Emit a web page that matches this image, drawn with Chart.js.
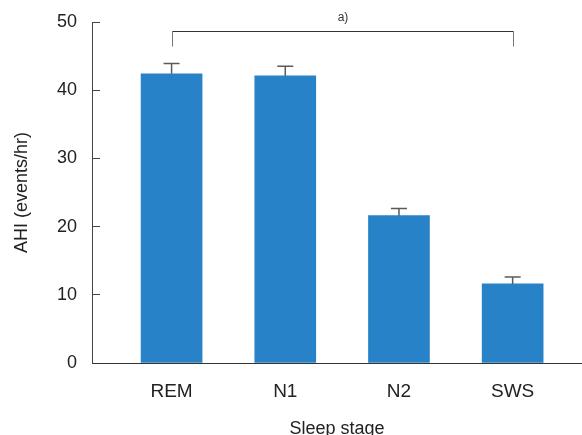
<!DOCTYPE html>
<html>
<head>
<meta charset="utf-8">
<script src="https://cdn.jsdelivr.net/npm/chart.js@4"></script>
<style>
  html, body { margin: 0; padding: 0; background: #fff; }
  #wrap { width: 582px; height: 435px; }
</style>
</head>
<body>
<div id="wrap"><canvas id="ahiChart"></canvas></div>
<script>
// Data
const categories = ['REM', 'N1', 'N2', 'SWS'];
const ahiMeans = [42.4, 42.1, 21.6, 11.6];
const ahiErrors = [1.5, 1.4, 1.05, 1.0];
const yTickValues = [0, 10, 20, 30, 40, 50];

// Significance bracket between REM and SWS
const bracketFrom = 0;
const bracketTo = 3;
const bracketTop = 48.7;
const bracketLegBottom = 46.4;
const bracketLabel = 'a)';
const bracketLabelValue = 50.6;

const FONT = '"Liberation Sans", Arial, Helvetica, sans-serif';
const barBlue = '#2882c7';

// draw upper error bars on top of each bar
const errorBars = {
    id: 'errorBars',
    afterDatasetsDraw(chart) {
        const { ctx, scales: { y } } = chart;
        const meta = chart.getDatasetMeta(0);
        ctx.save();
        ctx.strokeStyle = '#5a5a5a';
        ctx.lineWidth = 1.5;
        meta.data.forEach((bar, i) => {
            const top = y.getPixelForValue(ahiMeans[i] + ahiErrors[i]);
            ctx.beginPath();
            ctx.moveTo(bar.x, bar.y);
            ctx.lineTo(bar.x, top);
            ctx.moveTo(bar.x - 8, top);
            ctx.lineTo(bar.x + 8, top);
            ctx.stroke();
        });
        ctx.restore();
    }
};

// bracket + label above the bars
const bracket = {
    id: 'bracket',
    afterDraw(chart) {
        const { ctx, scales: { x, y } } = chart;
        const x1 = Math.round(x.getPixelForValue(bracketFrom)) + 0.5;
        const x2 = Math.round(x.getPixelForValue(bracketTo)) + 0.5;
        const yTop = Math.round(y.getPixelForValue(bracketTop)) + 0.5;
        const yLeg = y.getPixelForValue(bracketLegBottom);
        ctx.save();
        ctx.lineWidth = 1;
        ctx.strokeStyle = '#777';
        ctx.beginPath();
        ctx.moveTo(x1, yLeg);
        ctx.lineTo(x1, yTop);
        ctx.moveTo(x2, yTop);
        ctx.lineTo(x2, yLeg);
        ctx.stroke();
        ctx.strokeStyle = '#333';
        ctx.beginPath();
        ctx.moveTo(x1, yTop);
        ctx.lineTo(x2, yTop);
        ctx.stroke();
        ctx.fillStyle = '#333';
        ctx.font = '12px ' + FONT;
        ctx.textAlign = 'center';
        ctx.textBaseline = 'middle';
        ctx.fillText(bracketLabel, (x1 + x2) / 2, y.getPixelForValue(bracketLabelValue));
        ctx.restore();
    }
};

new Chart(document.getElementById('ahiChart'), {
    type: 'bar',
    data: {
        datasets: [{
            data: ahiMeans.map((v, i) => ({ x: i, y: v })),
            backgroundColor: barBlue,
            borderWidth: 0,
            barThickness: 61
        }]
    },
    options: {
        responsive: true,
        maintainAspectRatio: false,
        animation: false,
        layout: { padding: { left: 0, right: 0, top: 22, bottom: 0 } },
        plugins: { legend: { display: false }, tooltip: { enabled: false } },
        scales: {
            x: {
                type: 'linear',
                offset: false,
                min: -0.7,
                max: 3.61,
                afterBuildTicks: (s) => { s.ticks = categories.map((_, i) => ({ value: i })); },
                afterFit: (s) => { s.height = 72; },
                grid: { display: false, offset: false },
                border: { display: true, color: '#333', width: 1 },
                ticks: {
                    padding: 9,
                    color: '#222',
                    font: { family: FONT, size: 19 },
                    callback: (v) => categories[v] ?? ''
                },
                title: {
                    display: true,
                    text: 'Sleep stage',
                    color: '#222',
                    font: { family: FONT, size: 18 },
                    padding: { top: 0, bottom: -5 }
                }
            },
            y: {
                min: 0,
                max: 50,
                afterBuildTicks: (s) => { s.ticks = yTickValues.map(v => ({ value: v })); },
                afterFit: (s) => { s.width = 92; s.paddingTop = 0; },
                grid: { drawOnChartArea: false, drawTicks: true, tickLength: -8, color: '#444' },
                border: { display: true, color: '#444', width: 1 },
                ticks: {
                    padding: 23,
                    color: '#222',
                    font: { family: FONT, size: 18 }
                },
                title: {
                    display: true,
                    text: 'AHI (events/hr)',
                    color: '#222',
                    font: { family: FONT, size: 18 },
                    padding: { top: 11, bottom: 0 }
                }
            }
        }
    },
    plugins: [errorBars, bracket]
});
</script>
</body>
</html>
